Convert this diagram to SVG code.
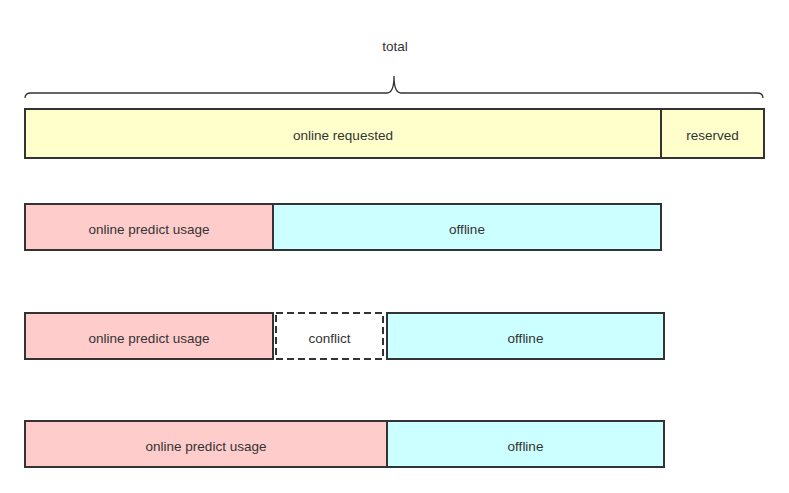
<svg xmlns="http://www.w3.org/2000/svg" width="789" height="493" viewBox="0 0 789 493">
<style>
.b{stroke:#333;stroke-width:2}
.y{fill:#ffffcc}.p{fill:#ffcccc}.c{fill:#ccffff}
.d{fill:#fff;stroke-dasharray:7 4}
text{font-family:"Liberation Sans",Arial,sans-serif;font-size:13.5px;fill:#333;text-anchor:middle;dominant-baseline:central}
</style>
<rect width="789" height="493" fill="#fff"/>
<g id="total"><text x="395" y="46">total</text></g>
<g id="connectors"><path d="M25,98 Q25,93 31,93 L387,93 Q394,93 394,76 Q394,93 401,93 L757,93 Q763,93 763,98" fill="none" stroke="#333" stroke-width="1.3"/></g>
<g id="online-requested"><rect class="b y" x="25" y="109" width="636" height="49"/><text x="343" y="135">online requested</text></g>
<g id="reserved"><rect class="b y" x="661" y="109" width="103" height="49"/><text x="712.5" y="135">reserved</text></g>
<g id="usage1"><rect class="b p" x="25" y="204" width="248" height="46"/><text x="149" y="229">online predict usage</text></g>
<g id="offline1"><rect class="b c" x="273" y="204" width="388" height="46"/><text x="467" y="229">offline</text></g>
<g id="usage2"><rect class="b p" x="25" y="313" width="248" height="46"/><text x="149" y="338">online predict usage</text></g>
<g id="conflict"><rect class="b d" x="276" y="313" width="107" height="46"/><text x="329.5" y="338">conflict</text></g>
<g id="offline2"><rect class="b c" x="387" y="313" width="277" height="46"/><text x="525.5" y="338">offline</text></g>
<g id="usage3"><rect class="b p" x="25" y="421" width="362" height="46"/><text x="206" y="446">online predict usage</text></g>
<g id="offline3"><rect class="b c" x="387" y="421" width="277" height="46"/><text x="525.5" y="446">offline</text></g>
</svg>
